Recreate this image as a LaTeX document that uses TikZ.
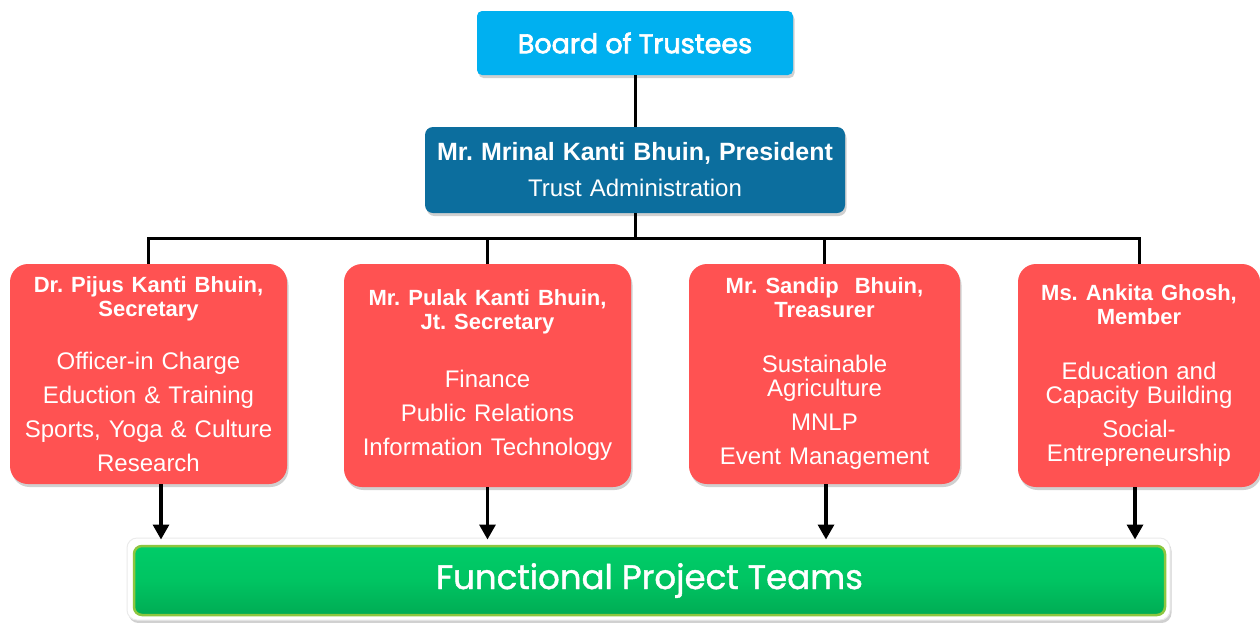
\documentclass[tikz,border=0pt]{standalone}
\usepackage{fontspec}
\setmainfont{Liberation Sans}
\newfontfamily\gothic[FakeBold=1.2]{Poppins}
\newfontfamily\gothicb[FakeBold=2.6]{Poppins}
\usetikzlibrary{shadows,arrows.meta}
\definecolor{cyanbox}{RGB}{0,176,240}
\definecolor{presbox}{RGB}{12,110,158}
\definecolor{redbox}{RGB}{255,82,82}
\definecolor{greenbox}{RGB}{0,196,98}
\definecolor{greentop}{RGB}{0,204,104}
\definecolor{greenbot}{RGB}{0,172,84}
\definecolor{greenedge}{RGB}{141,198,63}
\tikzset{
  shad/.style={drop shadow={opacity=0.3,shadow xshift=1.5pt,shadow yshift=-3pt,fill=black!60}},
  boardbox/.style={shad,fill=cyanbox,rounded corners=5pt,minimum width=316pt,minimum height=64pt,text=white,inner sep=0pt,font=\gothicb\fontsize{27}{30}\selectfont},
  presboxst/.style={shad,fill=presbox,rounded corners=8pt,minimum width=420pt,minimum height=86pt,text=white,inner sep=0pt,align=center,text width=410pt,font=\fontsize{24}{36}\selectfont},
  member/.style={shad,fill=redbox,rounded corners=18pt,text=white,inner sep=4pt,align=center,font=\fontsize{24}{24}\selectfont},
  conn/.style={line width=3pt,black},
  arr/.style={line width=3.3pt,black,-{Triangle[width=16pt,length=15pt]}},
}
\newcommand{\ttlfont}{\bfseries\fontsize{22}{24}\selectfont}
\newcommand{\bodyfont}{\mdseries\fontsize{24}{24}\selectfont}
\frenchspacing
\begin{document}
\frenchspacing
\begin{tikzpicture}[x=1pt,y=-1pt]
\useasboundingbox (0,0) rectangle (1260,622);
\fill[white] (0,0) rectangle (1260,622);
\coordinate (bus) at (635,238);
\node[boardbox] (board) at (635,43) {Board of Trustees};
\node[presboxst] (pres) at (635,170) {{\bfseries\fontsize{25}{36}\selectfont Mr. Mrinal Kanti Bhuin, President}\\Trust Administration};
\node[member,minimum width=277pt,minimum height=220pt,text width=269pt] (r1) at (148.5,374)
 {\ttlfont Dr. Pijus Kanti Bhuin,\\Secretary\\[29pt]\bodyfont Officer-in Charge\\[10pt]Eduction \& Training\\[10pt]Sports, Yoga \& Culture\\[10pt]Research};
\node[member,minimum width=287pt,minimum height=223pt,text width=279pt] (r2) at (487.5,375.5)
 {\ttlfont Mr. Pulak Kanti Bhuin,\\Jt. Secretary\\[34pt]\bodyfont Finance\\[10pt]Public Relations\\[10pt]Information Technology};
\node[member,minimum width=271pt,minimum height=220pt,text width=263pt] (r3) at (824.5,374)
 {\ttlfont Mr. Sandip\ \ Bhuin,\\Treasurer\\[31pt]\bodyfont Sustainable\\Agriculture\\[10pt]MNLP\\[10pt]Event Management};
\node[member,minimum width=242pt,minimum height=223pt,text width=234pt] (r4) at (1139,375.5)
 {\ttlfont Ms. Ankita Ghosh,\\Member\\[31pt]\bodyfont Education and\\Capacity Building\\[10pt]Social-\\Entrepreneurship};
\node[shad,fill=white,draw=black!8,line width=1pt,rounded corners=10pt,minimum width=1043pt,minimum height=82pt] (frame) at (648.5,579) {};
\node[top color=greentop,bottom color=greenbot,middle color=greenbox,draw=greenedge,line width=2.5pt,rounded corners=8pt,minimum width=1031pt,minimum height=69pt,text=white,font=\gothic\fontsize{34}{40}\selectfont] (teams) at (649.5,580.5) {Functional Project Teams};
\draw[conn] (board.south) -- (pres.north);
\draw[conn] (pres.south) -- (bus);
\draw[conn] (r1.north) -- (r1.north |- bus) -- (r4.north |- bus) -- (r4.north);
\draw[conn] (r2.north) -- (r2.north |- bus);
\draw[conn] (r3.north) -- (r3.north |- bus);
\draw[arr] ([xshift=12.5pt]r1.south) -- ([xshift=12.5pt,yshift=-2pt]r1.south |- frame.north);
\draw[arr] (r2.south) -- ([yshift=-2pt]r2.south |- frame.north);
\draw[arr] ([xshift=1.5pt]r3.south) -- ([xshift=1.5pt,yshift=-2pt]r3.south |- frame.north);
\draw[arr] ([xshift=-4pt]r4.south) -- ([xshift=-4pt,yshift=-2pt]r4.south |- frame.north);
\end{tikzpicture}
\end{document}
